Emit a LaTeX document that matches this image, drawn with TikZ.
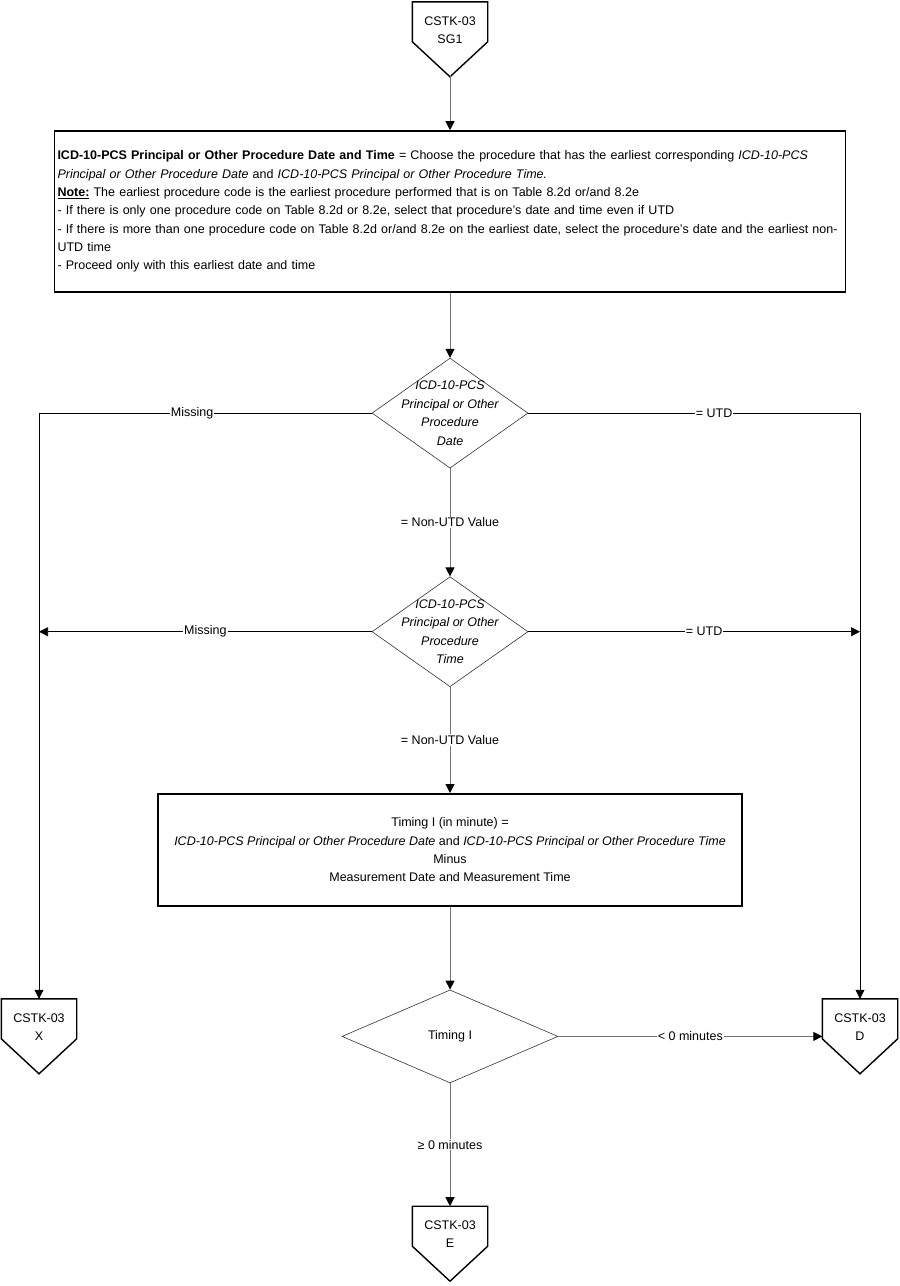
\documentclass[tikz,border=0pt]{standalone}
\usepackage{fontspec}
\setmainfont{Liberation Sans}
\usepackage{tikz}
\usetikzlibrary{shapes.geometric,arrows.meta,positioning,calc}

\begin{document}
\begin{tikzpicture}[
      x=1pt,y=-1pt,
      font=\fontsize{12.5}{18.3}\selectfont,
      >={Triangle[length=9pt,width=9pt,color=black]},
      offpage/.style={
        rectangle,
        minimum width=75pt,
        minimum height=56pt,
        inner sep=0pt,
        align=center
      },
      pent/.style={draw=black,line width=1.4pt,line join=miter},
      block/.style={
        rectangle,
        draw=black,
        line width=1.6pt,
        inner sep=3pt
      },
      decision/.style={
        diamond,
        draw=black!80,
        line width=0.6pt,
        inner sep=0pt
      },
      dtext/.style={align=center,font=\fontsize{12.5}{18.5}\selectfont\itshape},
      arrow/.style={->,line width=1pt,draw=black!55},
      branch/.style={->,line width=0.6pt,draw=black},
      lbl/.style={fill=white,inner sep=1pt}
    ]
    \useasboundingbox (0,0) rectangle (900,1286);

    % Entry and procedure selection
    \node[offpage] (sg1) at (450,30) {CSTK-03\\SG1};
    \node[block,below=72pt of sg1,text width=785pt,minimum height=161pt,align=left] (proc) {\textbf{ICD-10-PCS Principal or Other Procedure Date and Time} = Choose the procedure that has the earliest corresponding \textit{ICD-10-PCS}\\
      \textit{Principal or Other Procedure Date} and \textit{ICD-10-PCS Principal or Other Procedure Time.}\\
      \underline{\textbf{Note:}} The earliest procedure code is the earliest procedure performed that is on Table 8.2d or/and 8.2e\\
      - If there is only one procedure code on Table 8.2d or 8.2e, select that procedure's date and time even if UTD\\
      - If there is more than one procedure code on Table 8.2d or/and 8.2e on the earliest date, select the procedure's date and the earliest non-\\
      UTD time\\
      - Proceed only with this earliest date and time};

    % Date and time checks
    \node[decision,below=65pt of proc,minimum width=156pt,minimum height=110pt,
      label={[dtext]center:ICD-10-PCS\\Principal or Other\\Procedure\\Date}] (pdate) {};
    \node[decision,below=108pt of pdate,minimum width=156pt,minimum height=110pt,
      label={[dtext]center:ICD-10-PCS\\Principal or Other\\Procedure\\Time}] (ptime) {};

    % Timing
    \node[block,below=106pt of ptime,minimum width=584pt,minimum height=112pt,align=center] (calc) {Timing I (in minute) =\\
      \textit{ICD-10-PCS Principal or Other Procedure Date} and \textit{ICD-10-PCS Principal or Other Procedure Time}\\
      Minus\\
      Measurement Date and Measurement Time};
    \node[decision,below=83pt of calc,minimum width=216pt,minimum height=93pt] (timing) {Timing I};

    % Off-page connectors
    \node[offpage,below=123pt of timing] (offe) {CSTK-03\\E};
    \node[offpage] (offx) at (39,1027) {CSTK-03\\X};
    \node[offpage] (offd) at (860,1027) {CSTK-03\\D};
    \foreach \n in {sg1,offx,offd,offe}
      \draw[pent] (\n.north west) -- (\n.north east) -- ++(0pt,-40pt)
        -- ($(\n.north)+(0pt,-75pt)$)
        -- ($(\n.north west)+(0pt,-40pt)$) -- cycle;
    \coordinate (sg1 tip) at ($(sg1.north)+(0pt,-73pt)$);

    \draw[arrow] (sg1 tip) -- (proc);
    \draw[arrow] (proc) -- (pdate);
    \draw[arrow] (pdate) -- node[lbl]{= Non-UTD Value} (ptime);
    \draw[arrow] (ptime) -- node[lbl]{= Non-UTD Value} (calc);
    \draw[arrow] (calc) -- (timing);
    \draw[arrow] (timing) -- node[lbl]{≥ 0 minutes} (offe);
    \draw[arrow] (timing.east) -- node[lbl]{< 0 minutes} (timing.east -| offd.west);

    \draw[branch] (pdate.west) -| node[lbl,pos=0.27]{Missing} (offx.north);
    \draw[branch] (pdate.east) -| node[lbl,pos=0.28]{= UTD} (offd.north);
    \draw[branch] (ptime.west) -- node[lbl]{Missing} (ptime.west -| offx.north);
    \draw[branch] (ptime.east) -- node[lbl,pos=0.53]{= UTD} (ptime.east -| offd.north);
  \end{tikzpicture}
\end{document}
